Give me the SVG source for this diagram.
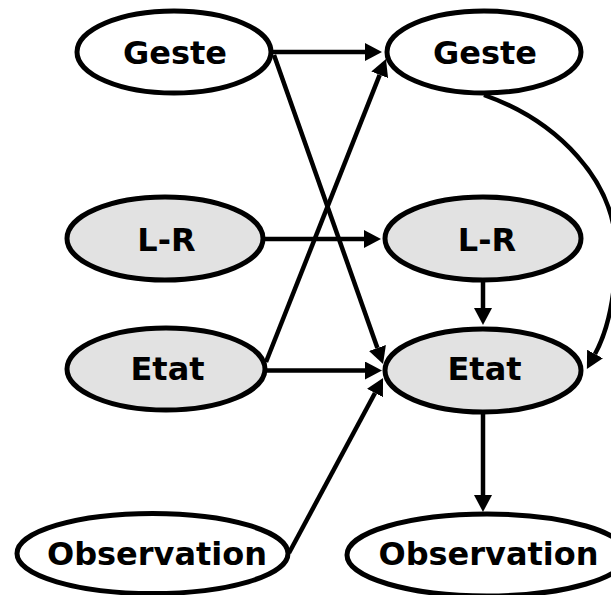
<svg xmlns="http://www.w3.org/2000/svg" width="611" height="595" viewBox="0 0 611 595">
<defs>
<marker id="ah" viewBox="0 0 17 18" refX="0" refY="9" markerWidth="17" markerHeight="18" markerUnits="userSpaceOnUse" orient="auto">
<path d="M0,0 L17,9 L0,18 Z" fill="#000"/>
</marker>
<style>
.n ellipse{stroke:#000;stroke-width:5}
.w ellipse{fill:#fff}
.g ellipse{fill:#e2e2e2}
text{font-family:"DejaVu Sans","Liberation Sans",sans-serif;font-weight:bold;font-size:32px;text-anchor:middle;fill:#000}
.e path{fill:none;stroke:#000;stroke-width:4.5;marker-end:url(#ah)}
</style>
</defs>
<rect width="611" height="595" fill="#fff"/>
<g id="edges" class="e">
<path d="M272,52 L365,52"/>
<path d="M274,55 L377.4,348"/>
<path d="M266,362 L379.7,74.8"/>
<path d="M264,239 L364,239"/>
<path d="M483,281 L483,308"/>
<path d="M266,370.5 L365,370.5"/>
<path d="M289,553 L375,393"/>
<path d="M483,413 L483,495"/>
<path d="M484,95 C555,120 618,180 616,255 C615,300 608,330 595,354"/>
</g>
<g id="geste1" class="n w"><ellipse cx="174" cy="52" rx="97" ry="41"/><text x="175" y="63.5">Geste</text></g>
<g id="geste2" class="n w"><ellipse cx="484" cy="52" rx="97" ry="41"/><text x="485" y="63.5">Geste</text></g>
<g id="lr1" class="n g"><ellipse cx="165" cy="238.5" rx="98" ry="41.5"/><text x="166.5" y="251">L-R</text></g>
<g id="lr2" class="n g"><ellipse cx="483" cy="238.5" rx="98" ry="41.5"/><text x="487" y="251">L-R</text></g>
<g id="etat1" class="n g"><ellipse cx="166" cy="369" rx="99" ry="41"/><text x="167.5" y="380">Etat</text></g>
<g id="etat2" class="n g"><ellipse cx="483" cy="370.5" rx="98" ry="41.5"/><text x="484.5" y="380">Etat</text></g>
<g id="obs1" class="n w"><ellipse cx="152.5" cy="553.5" rx="135.5" ry="40"/><text x="157" y="565">Observation</text></g>
<g id="obs2" class="n w"><ellipse cx="487" cy="555" rx="140" ry="41"/><text x="488.5" y="565">Observation</text></g>
</svg>
